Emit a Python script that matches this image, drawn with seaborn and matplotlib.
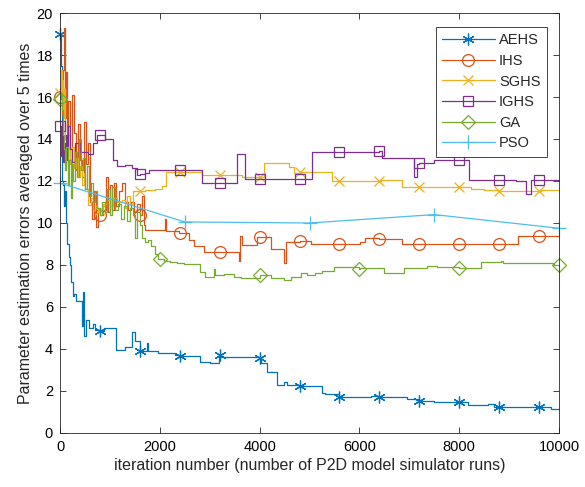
import numpy as np
import pandas as pd
import matplotlib
matplotlib.use("Agg")
import matplotlib.pyplot as plt
import seaborn as sns

# ---------------- data ----------------
aehs_x = [0, 15, 30, 45, 60, 80, 100, 120, 140, 170, 200, 230, 260, 290, 320, 440, 460, 480, 520, 580,
          660, 700, 800, 880, 1130, 1300, 1450, 1500, 1600, 1740, 1760, 1970, 2310, 2400, 2810, 3010,
          3180, 3200, 3220, 4000, 4020, 4150, 4350, 4480, 4550, 4800, 5250, 5320, 5600, 5950, 6230,
          6400, 6960, 7200, 7500, 8000, 8170, 8570, 8700, 8800, 9500, 9600, 9840, 10000]
aehs_y = [19.0, 17.5, 14.0, 12.0, 11.8, 10.8, 11.5, 10.0, 9.0, 8.4, 8.0, 7.2, 6.5, 6.6, 6.3, 5.1, 6.7, 4.6, 5.4, 5.0,
          5.2, 4.9, 4.85, 5.0, 3.95, 4.1, 4.8, 4.4, 3.9, 4.3, 3.9, 3.8, 3.7, 3.65, 3.4, 3.35,
          3.7, 3.7, 3.63, 3.55, 3.35, 2.9, 2.3, 2.45, 2.3, 2.22, 1.9, 1.85, 1.73, 1.7, 1.76,
          1.72, 1.6, 1.54, 1.49, 1.49, 1.33, 1.38, 1.25, 1.25, 1.22, 1.22, 1.13, 1.13]

ihs_x = [0, 20, 40, 60, 80, 100, 120, 140, 160, 200, 240, 280, 320, 360, 400, 440, 480, 520, 560, 600,
         640, 680, 720, 760, 800, 860, 920, 960, 1000, 1040, 1080, 1130, 1180, 1240, 1300, 1360, 1420,
         1480, 1540, 1600, 1650, 1680, 1700, 2100, 2120, 2380, 2400, 2580, 2680, 2880, 3200, 3580,
         3615, 3650, 3950, 4000, 4220, 4480, 4520, 4800, 5020, 5600, 6020, 6120, 6400, 6860, 7200,
         8000, 8800, 9170, 9600, 10000]
ihs_y = [16.0, 16.8, 15.2, 17.3, 19.3, 15.0, 17.2, 13.5, 15.8, 13.0, 16.1, 14.3, 12.5, 14.7, 13.0, 12.2, 14.8, 12.8, 13.8, 11.0,
         10.2, 11.5, 9.8, 10.6, 10.4, 10.6, 12.2, 10.5, 11.8, 10.6, 11.9, 10.8, 11.5, 11.9, 11.0, 10.6, 11.0,
         10.5, 10.9, 10.4, 11.3, 9.9, 9.65, 10.2, 9.6, 9.5, 9.54, 9.2, 8.9, 8.63, 8.63, 8.2,
         9.4, 8.95, 9.35, 9.35, 8.76, 8.1, 9.1, 9.12, 8.98, 8.98, 9.1, 9.27, 9.25, 8.98, 8.98,
         8.98, 8.98, 9.38, 9.4, 9.38]

sghs_x = [0, 15, 30, 45, 60, 80, 100, 130, 160, 200, 240, 280, 320, 360, 400, 440, 480, 500, 570, 620,
          660, 700, 760, 800, 870, 940, 1000, 1070, 1150, 1240, 1300, 1350, 1405, 1470, 1600, 1700,
          1900, 2040, 2120, 2400, 2845, 3200, 3650, 4000, 4083, 4585, 4686, 4800, 5455, 5600, 6400,
          6426, 6861, 7200, 8000, 8233, 8500, 8770, 8800, 9600, 9640, 10000]
sghs_y = [16.2, 17.3, 15.9, 16.8, 15.0, 16.4, 14.0, 13.2, 14.2, 12.8, 13.6, 12.6, 13.1, 12.2, 12.7, 11.8, 12.4, 11.6, 10.85, 11.2,
          10.6, 10.7, 10.5, 10.6, 10.9, 11.1, 10.8, 11.2, 11.0, 11.1, 10.7, 11.3, 10.9, 11.5, 11.5, 11.55,
          11.6, 11.75, 12.45, 12.45, 12.3, 12.3, 12.2, 12.2, 12.85, 12.65, 12.4, 12.45, 12.0, 12.0, 12.0,
          12.05, 11.7, 11.7, 11.7, 11.6, 11.57, 11.52, 11.52, 11.5, 11.55, 11.55]

ighs_x = [0, 15, 30, 50, 70, 90, 110, 130, 160, 200, 240, 300, 400, 570, 670, 740, 800, 900, 1070, 1140,
          1305, 1440, 1540, 1600, 1710, 1775, 2400, 2845, 3200, 3548, 3715, 4000, 4800, 5050, 5600,
          6400, 6460, 7100, 7160, 7200, 7500, 8000, 8200, 8800, 9140, 9340, 9440, 9600, 10000]
ighs_y = [14.6, 13.2, 14.8, 12.9, 13.8, 12.8, 14.2, 13.0, 14.6, 13.5, 12.9, 13.8, 13.4, 13.3, 13.8, 14.2, 14.2, 14.0, 13.0, 12.7,
          12.75, 12.6, 12.3, 12.35, 12.4, 12.5, 12.5, 11.9, 11.9, 13.3, 12.1, 12.1, 12.1, 13.4, 13.4,
          13.45, 13.1, 12.2, 12.8, 12.85, 13.0, 13.0, 12.05, 12.05, 12.0, 11.4, 12.05, 12.05, 12.05]

ga_x = [0, 20, 40, 60, 80, 100, 120, 150, 180, 210, 240, 270, 300, 340, 380, 420, 460, 500, 540, 580,
        620, 660, 700, 740, 800, 850, 900, 950, 1000, 1050, 1100, 1160, 1220, 1280, 1340, 1400, 1460,
        1500, 1540, 1600, 1650, 1700, 1770, 1830, 1900, 1960, 2000, 2080, 2200, 2340, 2480, 2810,
        2910, 3080, 3100, 3280, 3480, 3620, 4000, 4220, 4490, 4620, 4820, 4950, 5100, 5250, 5490,
        6000, 6020, 6490, 6900, 7360, 7560, 8000, 8100, 8430, 8830, 8870, 9900, 10000]
ga_y = [15.9, 16.2, 15.4, 14.2, 13.5, 12.5, 13.6, 11.8, 13.0, 11.2, 12.8, 12.0, 13.4, 12.2, 14.0, 12.5, 13.1, 11.6, 12.7, 11.3,
        11.9, 11.0, 11.5, 10.7, 10.4, 11.0, 10.5, 11.6, 10.4, 11.7, 10.6, 10.9, 10.2, 10.8, 10.1, 10.7, 10.4,
        9.3, 10.5, 9.9, 9.3, 9.1, 9.2, 8.9, 8.5, 8.3, 8.27, 8.2, 8.15, 8.1, 8.05, 7.68,
        7.43, 7.8, 7.5, 7.55, 7.43, 7.4, 7.5, 7.38, 7.3, 7.45, 7.6, 7.5, 7.6, 7.7, 7.9,
        7.8, 7.85, 7.6, 7.85, 7.95, 7.9, 7.88, 7.85, 8.16, 8.2, 8.08, 8.0, 8.0]

pso_x = [0, 2500, 5000, 7500, 10000]
pso_y = [11.9, 10.05, 10.0, 10.4, 9.75]

names = ["AEHS", "IHS", "SGHS", "IGHS", "GA", "PSO"]
marker_step = [800, 800, 800, 800, 2000, 2500]

# ---------------- styling ----------------
sns.set_theme(style="ticks")
plt.rcParams["font.family"] = ["Liberation Sans", "DejaVu Sans"]

colors = ["#0072BD", "#D95319", "#EDB120", "#7E2F8E", "#77AC30", "#4DBEEE"]
markers = [(6, 2, 0), "o", "x", "s", "D", "+"]
msizes = [8.5, 8.5, 7, 7.5, 7, 10]

fig = plt.figure(figsize=(5.85, 4.87), dpi=100)
ax = fig.add_axes([0.1026, 0.1109, 0.8530, 0.8624])

series = [(aehs_x, aehs_y), (ihs_x, ihs_y), (sghs_x, sghs_y),
          (ighs_x, ighs_y), (ga_x, ga_y), (pso_x, pso_y)]

for (xs, ys), name, col, mk, ms, step in zip(series, names, colors, markers, msizes, marker_step):
    df = pd.DataFrame({"x": xs, "y": ys})
    xs_arr = np.asarray(xs)
    mev = [int(i) for i in np.where(xs_arr % step == 0)[0]]
    ds = "default" if name == "PSO" else "steps-post"
    sns.lineplot(data=df, x="x", y="y", ax=ax, color=col, sort=False, estimator=None,
                 drawstyle=ds, marker=mk, markersize=ms, markevery=mev,
                 markerfacecolor="none", markeredgecolor=col, markeredgewidth=0.9,
                 linewidth=0.9, label=name, clip_on=False)

ax.set_xlim(0, 10000)
ax.set_ylim(0, 20)
ax.set_xticks(np.arange(0, 10001, 2000))
ax.set_yticks(np.arange(0, 21, 2))
ax.tick_params(direction="in", top=True, right=True, length=4, width=0.6, pad=5,
               labelsize=10.5, colors="#262626", labelcolor="black")
for s in ax.spines.values():
    s.set_linewidth(0.6)
    s.set_color("#262626")
ax.set_xlabel("iteration number (number of P2D model simulator runs)", fontsize=11.5, labelpad=3)
ax.set_ylabel("Parameter estimation errors averaged over 5 times", fontsize=11.5, labelpad=3)

leg = ax.legend(loc="upper right", bbox_to_anchor=(0.976, 0.967), borderaxespad=0,
                fontsize=10.5, handlelength=3.6, handletextpad=0.3, labelspacing=0.45,
                borderpad=0.45, fancybox=False, framealpha=1, edgecolor="#262626")
leg.get_frame().set_linewidth(0.6)

fig.savefig("out.png", dpi=100)
